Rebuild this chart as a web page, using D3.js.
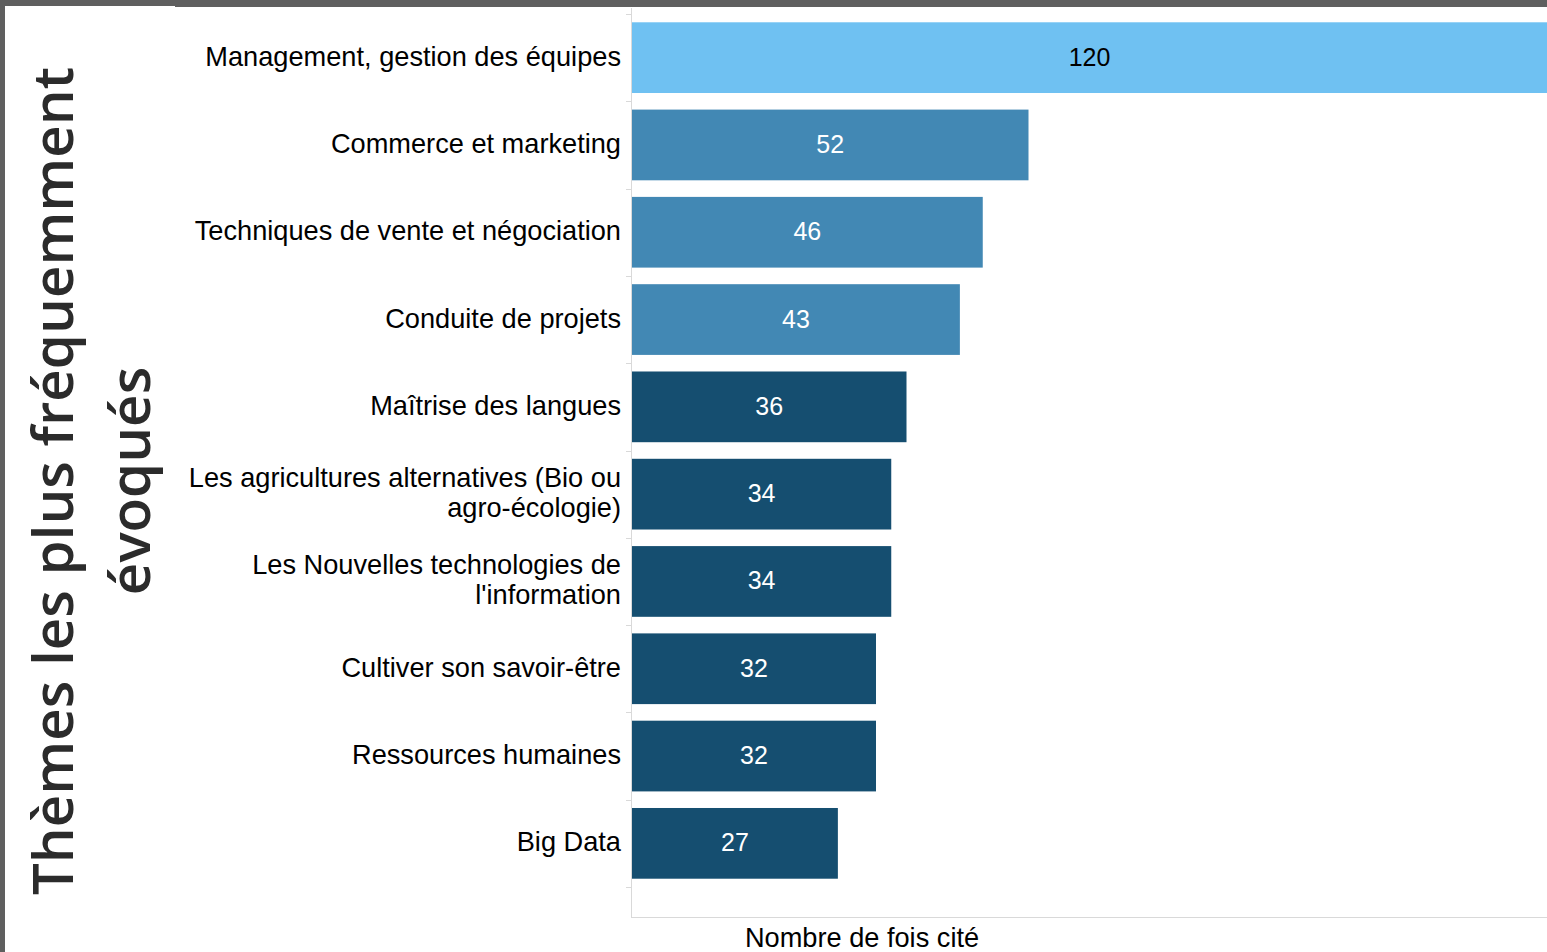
<!DOCTYPE html>
<html>
<head>
  <meta charset="utf-8" />
  <title>Thèmes les plus fréquemment évoqués</title>
  <script src="https://cdnjs.cloudflare.com/ajax/libs/d3/7.8.5/d3.min.js"></script>
  <style>
    html, body { margin: 0; padding: 0; background: #fff; overflow: hidden; }
    svg { display: block; }
  </style>
</head>
<body>
  <div id="chart"></div>

  <script>
    // data
    var themes = [
      ["Management, gestion des équipes"],
      ["Commerce et marketing"],
      ["Techniques de vente et négociation"],
      ["Conduite de projets"],
      ["Maîtrise des langues"],
      ["Les agricultures alternatives (Bio ou", "agro-écologie)"],
      ["Les Nouvelles technologies de", "l'information"],
      ["Cultiver son savoir-être"],
      ["Ressources humaines"],
      ["Big Data"]
    ];
    var counts = [120, 52, 46, 43, 36, 34, 34, 32, 32, 27];
    var groups = ["top", "mid", "mid", "mid", "low", "low", "low", "low", "low", "low"];

    var xTitle = "Nombre de fois cité";
    var yTitle = ["Thèmes les plus fréquemment", "évoqués"];

    var width = 1547, height = 952;
    var plotLeft = 631, plotRight = 1547, plotTop = 14, plotBottom = 887, axisBottom = 917;

    var colors = { top: "#6fc1f2", mid: "#4288b4", low: "#154e70" };
    var textColors = { top: "#000", mid: "#fff", low: "#fff" };

    var svg = d3.select("#chart")
      .append("svg")
      .attr("width", width)
      .attr("height", height);

    // frame
    svg.append("rect").attr("x", 0).attr("y", 0).attr("width", width).attr("height", 6).attr("fill", "#5f5f5f");
    svg.append("rect").attr("x", 175).attr("y", 6).attr("width", width - 175).attr("height", 1).attr("fill", "#5f5f5f");
    svg.append("rect").attr("x", 0).attr("y", 0).attr("width", 5).attr("height", height).attr("fill", "#5f5f5f");

    var keys = themes.map(function(d, i) { return "c" + i; });

    var x = d3.scaleLinear().domain([0, 120]).range([plotLeft + 1, plotRight]);

    var y = d3.scaleBand()
      .domain(keys)
      .range([plotTop, plotBottom])
      .paddingInner(0.19)
      .paddingOuter(0.095);

    var step = y.step();
    var gap = (step - y.bandwidth()) / 2;

    // axis lines
    svg.append("line")
      .attr("x1", plotLeft + 0.5).attr("x2", plotLeft + 0.5)
      .attr("y1", 8).attr("y2", axisBottom)
      .attr("stroke", "#d9d9d9").attr("stroke-width", 1);
    svg.append("line")
      .attr("x1", plotLeft).attr("x2", plotRight)
      .attr("y1", axisBottom + 0.5).attr("y2", axisBottom + 0.5)
      .attr("stroke", "#d9d9d9").attr("stroke-width", 1);

    // ticks between bands
    var bounds = keys.map(function(k) { return y(k) - gap; })
      .concat([y(keys[keys.length - 1]) + y.bandwidth() + gap]);
    svg.selectAll(".tick")
      .data(bounds)
      .enter().append("line")
      .attr("class", "tick")
      .attr("x1", plotLeft - 5).attr("x2", plotLeft)
      .attr("y1", function(d) { return Math.round(d) + 0.5; })
      .attr("y2", function(d) { return Math.round(d) + 0.5; })
      .attr("stroke", "#d9d9d9");

    // bars
    svg.selectAll(".bar")
      .data(keys)
      .enter().append("rect")
      .attr("class", "bar")
      .attr("x", x(0))
      .attr("y", function(k) { return y(k); })
      .attr("width", function(k, i) { return x(counts[i]) - x(0); })
      .attr("height", y.bandwidth())
      .attr("fill", function(k, i) { return colors[groups[i]]; });

    // values
    svg.selectAll(".value")
      .data(keys)
      .enter().append("text")
      .attr("class", "value")
      .attr("x", function(k, i) { return (x(0) + x(counts[i])) / 2; })
      .attr("y", function(k) { return y(k) + y.bandwidth() / 2; })
      .attr("dy", "0.32em")
      .attr("text-anchor", "middle")
      .attr("font-family", "'Liberation Sans', Arial, sans-serif")
      .attr("font-size", 25)
      .attr("fill", function(k, i) { return textColors[groups[i]]; })
      .text(function(k, i) { return counts[i]; });

    // category labels
    var labels = svg.selectAll(".label")
      .data(keys)
      .enter().append("text")
      .attr("class", "label")
      .attr("text-anchor", "end")
      .attr("font-family", "'Liberation Sans', Arial, sans-serif")
      .attr("font-size", 27.2)
      .attr("fill", "#000");

    labels.each(function(k, i) {
      var lines = themes[i];
      var cy = y(k) + y.bandwidth() / 2 - 1.5;
      var lh = 30;
      d3.select(this).selectAll("tspan")
        .data(lines)
        .enter().append("tspan")
        .attr("x", 621)
        .attr("y", function(d, j) { return cy + (j - (lines.length - 1) / 2) * lh; })
        .attr("dy", "0.35em")
        .text(function(d) { return d; });
    });

    // x title
    svg.append("text")
      .attr("x", 862)
      .attr("y", 947)
      .attr("text-anchor", "middle")
      .attr("font-family", "'Liberation Sans', Arial, sans-serif")
      .attr("font-size", 27.2)
      .attr("fill", "#000")
      .text(xTitle);

    // y title
    var yt = svg.append("text")
      .attr("transform", "translate(0,481) rotate(-90)")
      .attr("text-anchor", "middle")
      .attr("font-family", "'Open Sans', 'Noto Sans', sans-serif")
      .attr("font-weight", 600)
      .attr("font-size", 56.5)
      .attr("fill", "#2b2b2b");
    yt.selectAll("tspan")
      .data(yTitle)
      .enter().append("tspan")
      .attr("x", 0)
      .attr("y", function(d, i) { return 73 + i * 77; })
      .text(function(d) { return d; });
  </script>
</body>
</html>
